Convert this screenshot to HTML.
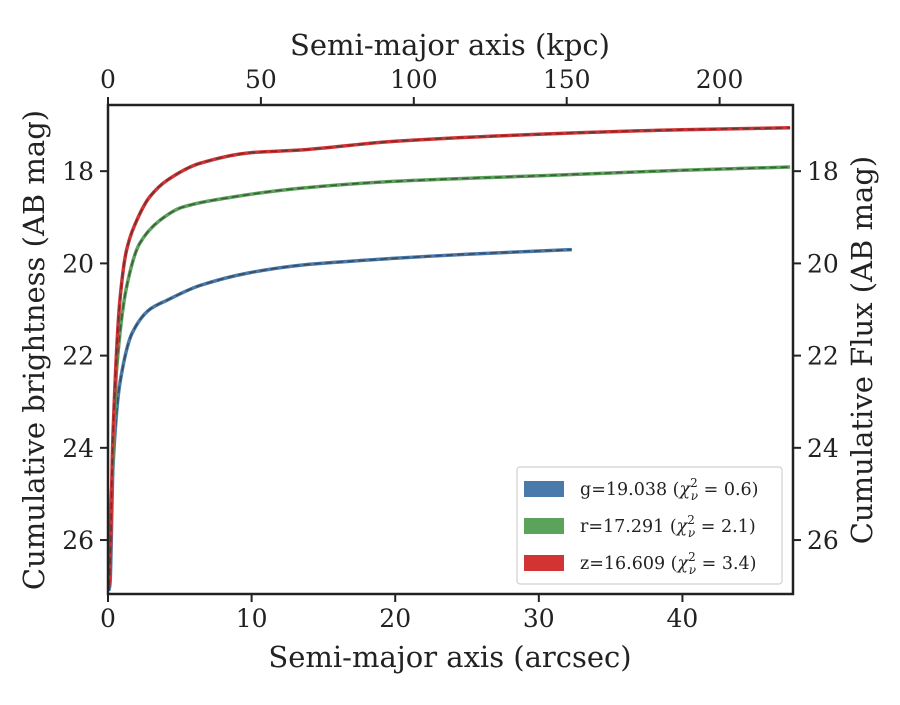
<!DOCTYPE html>
<html><head><meta charset="utf-8"><style>
body{margin:0;background:#fff}
svg text{font-family:"DejaVu Serif","Liberation Serif",serif;fill:#222}
</style></head><body>
<svg id="chart" width="900" height="700" viewBox="0 0 900 700" xmlns="http://www.w3.org/2000/svg">
<rect width="900" height="700" fill="#fff"/>
<g id="plot"></g>
<g id="axes"></g>
</svg>
<script>
const xTicks=[0,10,20,30,40];
const topTicks=[0,50,100,150,200];
const yTicks=[18,20,22,24,26];
const seriesNames=["g","r","z"];
const seriesColors=["#4a7aab","#5ba25a","#d23434"];
const legendLabels=["g=19.038","r=17.291","z=16.609"];
const legendChi=["0.6","2.1","3.4"];
const gX=[0.05,0.14,0.35,0.83,1.7,2.9,4.1,6.4,9.9,13.4,20,25,32.3];
const gY=[27.1,26.95,24.4,22.6,21.5,21.0,20.8,20.48,20.2,20.04,19.89,19.8,19.7];
const rX=[0.05,0.27,0.6,1.3,2.2,3.6,5.2,8.7,13.4,20,30,40,47.5];
const rY=[26.0,24.8,22.3,20.5,19.57,19.07,18.78,18.56,18.37,18.22,18.1,17.98,17.91];
const zX=[0.05,0.1,0.35,0.83,1.3,2,2.9,4.1,6.4,9.9,13.4,20,30,40,47.5];
const zY=[27.0,26.9,23.7,20.8,19.7,19.07,18.56,18.2,17.83,17.6,17.54,17.35,17.2,17.1,17.06];
const NS="http://www.w3.org/2000/svg";
const L=108,R=793,T=105,B=594;
const xMin=0,xMax=47.7,yTop=16.565,yBot=27.17,kpcMax=224;
const sx=v=>L+(v-xMin)/(xMax-xMin)*(R-L);
const sy=v=>T+(v-yTop)/(yBot-yTop)*(B-T);
const sk=v=>L+v/kpcMax*(R-L);
function mk(tag,attrs,parent){const e=document.createElementNS(NS,tag);for(const k in attrs)e.setAttribute(k,attrs[k]);parent.appendChild(e);return e;}
function monoPath(px,py){
  const n=px.length,d=[],m=new Array(n);
  for(let i=0;i<n-1;i++)d.push((py[i+1]-py[i])/(px[i+1]-px[i]));
  m[0]=d[0];m[n-1]=d[n-2];
  for(let i=1;i<n-1;i++){m[i]=(d[i-1]*d[i]<=0)?0:(2/(1/d[i-1]+1/d[i]));}
  let s='M'+px[0].toFixed(1)+','+py[0].toFixed(1);
  for(let i=0;i<n-1;i++){const h=px[i+1]-px[i];
    s+=' C'+(px[i]+h/3).toFixed(1)+','+(py[i]+m[i]*h/3).toFixed(1)+' '+(px[i+1]-h/3).toFixed(1)+','+(py[i+1]-m[i+1]*h/3).toFixed(1)+' '+px[i+1].toFixed(1)+','+py[i+1].toFixed(1);}
  return s;
}
const plot=document.getElementById('plot'),axes=document.getElementById('axes');
const data=[[gX,gY],[rX,rY],[zX,zY]];
data.forEach((d,i)=>{
  const path=monoPath(d[0].map(sx),d[1].map(sy));
  const p=mk('path',{d:path,fill:'none',stroke:seriesColors[i],'stroke-width':3.5,'stroke-linejoin':'round'},plot);
  
  
  const q=mk('path',{d:path,fill:'none',stroke:'#333','stroke-opacity':0.65,'stroke-width':1.6,'stroke-dasharray':'7,4'},plot);
  
  
});
const frame=mk('rect',{x:L,y:T,width:R-L,height:B-T,fill:'none',stroke:'#222','stroke-width':2.5},axes);


xTicks.forEach(v=>{
  const x=sx(v);
  mk('line',{x1:x,x2:x,y1:B,y2:B+8,stroke:'#222','stroke-width':2},axes);
  const t=mk('text',{x:x,y:B+33,'text-anchor':'middle','font-size':25},axes);t.textContent=v;
  
  
});
topTicks.forEach(v=>{
  const x=sk(v);
  mk('line',{x1:x,x2:x,y1:T,y2:T-8,stroke:'#222','stroke-width':2},axes);
  const t=mk('text',{x:x,y:T-17,'text-anchor':'middle','font-size':25},axes);t.textContent=v;
  
  
});
yTicks.forEach(v=>{
  const y=sy(v);
  mk('line',{x1:L,x2:L-8,y1:y,y2:y,stroke:'#222','stroke-width':2},axes);
  mk('line',{x1:R,x2:R+8,y1:y,y2:y,stroke:'#222','stroke-width':2},axes);
  const t=mk('text',{x:L-14,y:y+9,'text-anchor':'end','font-size':25},axes);t.textContent=v;
  
  
  const t2=mk('text',{x:R+14,y:y+9,'text-anchor':'start','font-size':25},axes);t2.textContent=v;
  
  
});
function lab(txt,x,y,rot,name){const t=mk('text',{x:x,y:y,'text-anchor':'middle','font-size':29},axes);if(rot)t.setAttribute('transform','rotate(-90 '+x+' '+y+')');t.textContent=txt;
  
  }
lab('Semi-major axis (arcsec)',450,667,false,'x-axis-title');
lab('Semi-major axis (kpc)',450,55,false,'top-x-axis-title');
lab('Cumulative brightness (AB mag)',44,350,true,'y-axis-title');
lab('Cumulative Flux (AB mag)',872,350,true,'right-y-axis-title');
const lg=mk('g',{},axes);


mk('rect',{x:517,y:467,width:265,height:117,rx:3,fill:'#fff',stroke:'#d0d0d0','stroke-width':1.2},lg);
seriesNames.forEach((n,i)=>{
  const y=489+i*37;
  const r=mk('rect',{x:524,y:y-8,width:40,height:16,fill:seriesColors[i]},lg);
  
  
  const t=mk('text',{x:580,y:y+6,'font-size':17.5},lg);
  
  
  t.innerHTML=legendLabels[i]+' (<tspan font-style="italic">χ</tspan><tspan font-size="12" dy="-8">2</tspan><tspan font-size="12" font-style="italic" dx="-7" dy="13">ν</tspan><tspan dy="-5"> = '+legendChi[i]+')</tspan>';
});
</script>
</body></html>
